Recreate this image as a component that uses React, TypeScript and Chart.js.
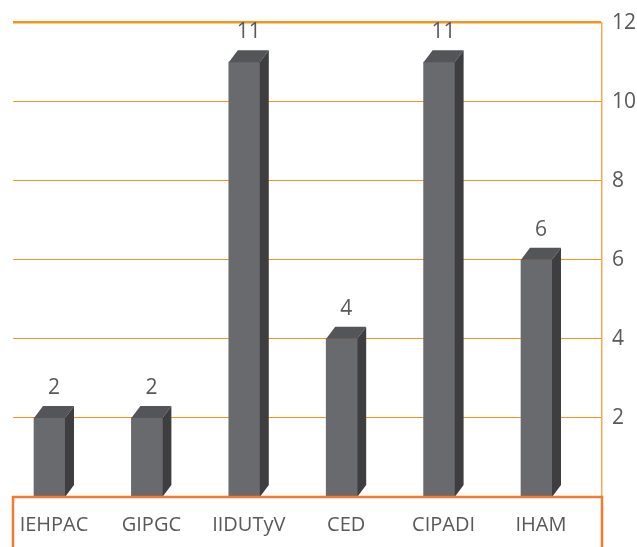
import React, { useEffect, useRef } from "react";
import { Chart, registerables } from "chart.js";

Chart.register(...registerables);

const categories = ["IEHPAC", "GIPGC", "IIDUTyV", "CED", "CIPADI", "IHAM"];
const values = [2, 2, 11, 4, 11, 6];
const yMax = 12;
const yStep = 2;

const FONT = "'Open Sans', 'Noto Sans', sans-serif";
const TEXT = "#595959";
const DX = 9;
const DY = 12;

const bar3d = {
  id: "bar3d",
  afterDatasetsDraw(chart: any) {
    const ctx = chart.ctx;
    const meta = chart.getDatasetMeta(0);
    ctx.save();
    meta.data.forEach((el: any, i: number) => {
      const { x, y, base, width } = el.getProps(["x", "y", "base", "width"], true);
      const l = x - width / 2;
      const r = x + width / 2;
      // top face
      ctx.fillStyle = "#545558";
      ctx.beginPath();
      ctx.moveTo(l, y);
      ctx.lineTo(l + DX, y - DY);
      ctx.lineTo(r + DX, y - DY);
      ctx.lineTo(r, y);
      ctx.closePath();
      ctx.fill();
      // side face
      ctx.fillStyle = "#3e3e40";
      ctx.beginPath();
      ctx.moveTo(r, y);
      ctx.lineTo(r + DX, y - DY);
      ctx.lineTo(r + DX, base - DY);
      ctx.lineTo(r, base);
      ctx.closePath();
      ctx.fill();
      // value label
      ctx.fillStyle = TEXT;
      ctx.font = `21px ${FONT}`;
      ctx.textAlign = "center";
      ctx.textBaseline = "middle";
      ctx.fillText(String(values[i]), x + DX / 2, y - 30);
    });
    ctx.restore();
  },
  afterDraw(chart: any) {
    const ctx = chart.ctx;
    const a = chart.chartArea;
    ctx.save();
    ctx.strokeStyle = "#f47a2c";
    ctx.lineWidth = 2.5;
    ctx.beginPath();
    ctx.moveTo(a.left, chart.height + 5);
    ctx.lineTo(a.left, a.bottom);
    ctx.lineTo(a.right, a.bottom);
    ctx.lineTo(a.right, chart.height + 5);
    ctx.stroke();
    ctx.restore();
  },
};

export default function App() {
  const ref = useRef<HTMLCanvasElement>(null);
  useEffect(() => {
    if (!ref.current) return;
    const chart = new Chart(ref.current, {
      type: "bar",
      data: {
        datasets: [
          {
            data: categories.map((_, i) => ({ x: i, y: values[i] })),
            backgroundColor: "#696a6e",
            borderWidth: 0,
            barThickness: 31,
          },
        ],
      },
      options: {
        animation: false,
        responsive: false,
        devicePixelRatio: 1,
        layout: { padding: { top: 20, left: 13, right: 0, bottom: 0 } },
        plugins: { legend: { display: false }, tooltip: { enabled: false } },
        scales: {
          x: {
            type: "linear",
            offset: false,
            min: -0.3747,
            max: 5.6725,
            afterFit: (s: any) => {
              s.height = 50;
            },
            grid: { display: false },
            border: { display: false },
            ticks: {
              stepSize: 1,
              includeBounds: false,
              autoSkip: false,
              maxRotation: 0,
              labelOffset: DX / 2,
              padding: 8,
              color: TEXT,
              font: { family: FONT, size: 20 },
              callback: (v: any) =>
                Number.isInteger(v) && v >= 0 && v < categories.length ? categories[v] : "",
            },
          },
          y: {
            position: "right",
            min: 0,
            max: yMax,
            afterFit: (s: any) => {
              s.width = 35;
            },
            grid: {
              color: "#f7941d",
              drawTicks: false,
              lineWidth: (c: any) => (c.tick && c.tick.value === yMax ? 2.5 : c.tick && c.tick.value === 0 ? 0 : 1),
            },
            border: { color: "#f9a84e", width: 1.5 },
            ticks: {
              stepSize: yStep,
              padding: 10,
              color: TEXT,
              font: { family: FONT, size: 21 },
              callback: (v: any) => (v === 0 ? "" : String(v)),
            },
          },
        },
      },
      plugins: [bar3d],
    } as any);
    return () => chart.destroy();
  }, []);
  return (
    <div style={{ position: "fixed", left: 0, top: 0, width: 637, height: 547, background: "#fff" }}>
      <canvas ref={ref} width={637} height={547} />
    </div>
  );
}
